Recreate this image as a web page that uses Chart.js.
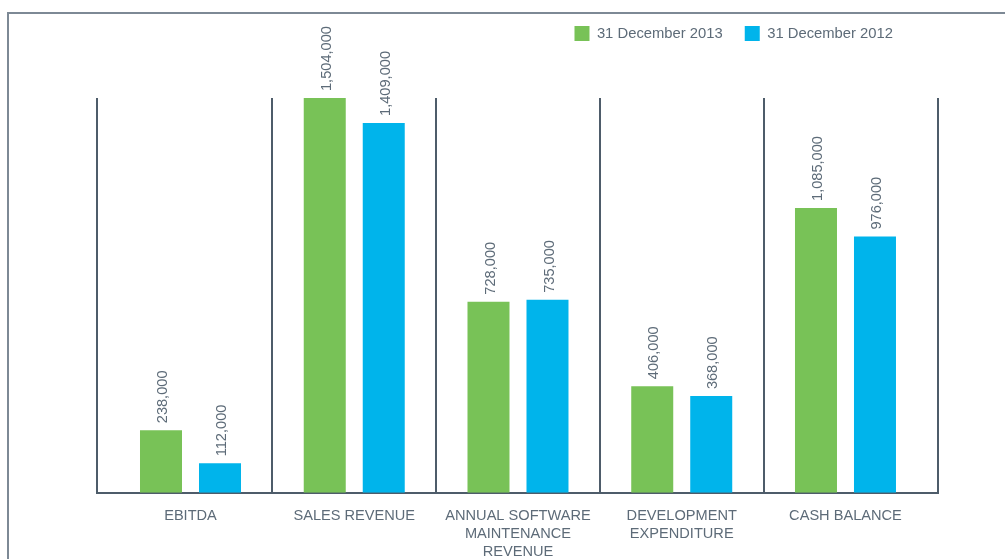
<!DOCTYPE html>
<html>
<head>
<meta charset="utf-8">
<script src="https://cdn.jsdelivr.net/npm/chart.js@4/dist/chart.umd.min.js"></script>
<style>
  html, body { margin: 0; padding: 0; background: #ffffff; overflow: hidden; }
  #wrap { position: relative; width: 1005px; height: 559px; overflow: hidden; }
  #frame { position: absolute; left: 7px; top: 12px; width: 1100px; height: 700px;
           border-left: 2px solid #7d8995; border-top: 2px solid #7d8995; pointer-events: none; }
</style>
</head>
<body>
<div id="wrap">
  <canvas id="c" width="1005" height="559"></canvas>
  <div id="frame"></div>
</div>
<script>
const categories = ['EBITDA', 'SALES REVENUE', ['ANNUAL SOFTWARE', 'MAINTENANCE', 'REVENUE'], ['DEVELOPMENT', 'EXPENDITURE'], 'CASH BALANCE'];
const seriesNames = ['31 December 2013', '31 December 2012'];
const values2013 = [238000, 1504000, 728000, 406000, 1085000];
const values2012 = [112000, 1409000, 735000, 368000, 976000];

const TEXT = '#5d6b78';
const LINE = '#4e5c6a';

const layoutTweaks = {
  id: 'layoutTweaks',
  beforeInit(chart) {
    const lg = chart.legend;
    const fit = lg.fit;
    lg.fit = function () { fit.call(this); this.height += 47; };
    const draw = lg.draw;
    lg.draw = function () { const r = this.right; this.right = r - 23; draw.apply(this, arguments); this.right = r; };
  }
};

const separators = {
  id: 'separators',
  beforeDatasetsDraw(chart) {
    const {ctx, chartArea, scales: {x}} = chart;
    const marks = [x.min];
    for (let i = 0; i < categories.length - 1; i++) marks.push(i + 0.5);
    marks.push(x.max);
    ctx.save();
    ctx.strokeStyle = LINE;
    ctx.lineWidth = 2;
    marks.forEach(v => {
      const px = Math.round(x.getPixelForValue(v));
      ctx.beginPath();
      ctx.moveTo(px, chartArea.top);
      ctx.lineTo(px, chartArea.bottom);
      ctx.stroke();
    });
    ctx.restore();
  }
};

const valueLabels = {
  id: 'valueLabels',
  afterDatasetsDraw(chart) {
    const ctx = chart.ctx;
    ctx.save();
    ctx.fillStyle = TEXT;
    ctx.font = '14.6px "Liberation Sans", Arial, sans-serif';
    ctx.textAlign = 'left';
    ctx.textBaseline = 'middle';
    chart.data.datasets.forEach((ds, di) => {
      const meta = chart.getDatasetMeta(di);
      meta.data.forEach((bar, i) => {
        const v = ds.data[i].y;
        ctx.save();
        ctx.translate(bar.x + 2, bar.y - 7);
        ctx.rotate(-Math.PI / 2);
        ctx.fillText(v.toLocaleString('en-US'), 0, 0);
        ctx.restore();
      });
    });
    ctx.restore();
  }
};

new Chart(document.getElementById('c'), {
  type: 'bar',
  data: {
    datasets: [
      { label: seriesNames[0], data: values2013.map((v, i) => ({x: i, y: v})), backgroundColor: '#78c257', borderWidth: 0 },
      { label: seriesNames[1], data: values2012.map((v, i) => ({x: i, y: v})), backgroundColor: '#00b4eb', borderWidth: 0 }
    ]
  },
  options: {
    responsive: false,
    animation: false,
    categoryPercentage: 0.7206,
    barPercentage: 0.7119,
    layout: { padding: { left: 97, right: 67, top: 4, bottom: -16 } },
    scales: {
      x: {
        type: 'linear',
        offset: false,
        min: -0.571,
        max: 4.565,
        afterBuildTicks: (scale) => { scale.ticks = categories.map((c, i) => ({value: i})); },
        grid: { display: false, drawTicks: false },
        border: { display: true, color: LINE, width: 2 },
        ticks: {
          autoSkip: false, maxRotation: 0, minRotation: 0, padding: 14,
          color: TEXT,
          font: { family: '"Liberation Sans", Arial, sans-serif', size: 14.6, lineHeight: 1.24 },
          callback: (value) => categories[value]
        }
      },
      y: { display: false, min: 0, max: 1504000 }
    },
    plugins: {
      tooltip: { enabled: false },
      legend: {
        position: 'top',
        align: 'end',
        labels: {
          boxWidth: 15, boxHeight: 15, padding: 22, color: TEXT,
          font: { family: '"Liberation Sans", Arial, sans-serif', size: 14.8 }
        }
      }
    }
  },
  plugins: [layoutTweaks, separators, valueLabels]
});
</script>
</body>
</html>
